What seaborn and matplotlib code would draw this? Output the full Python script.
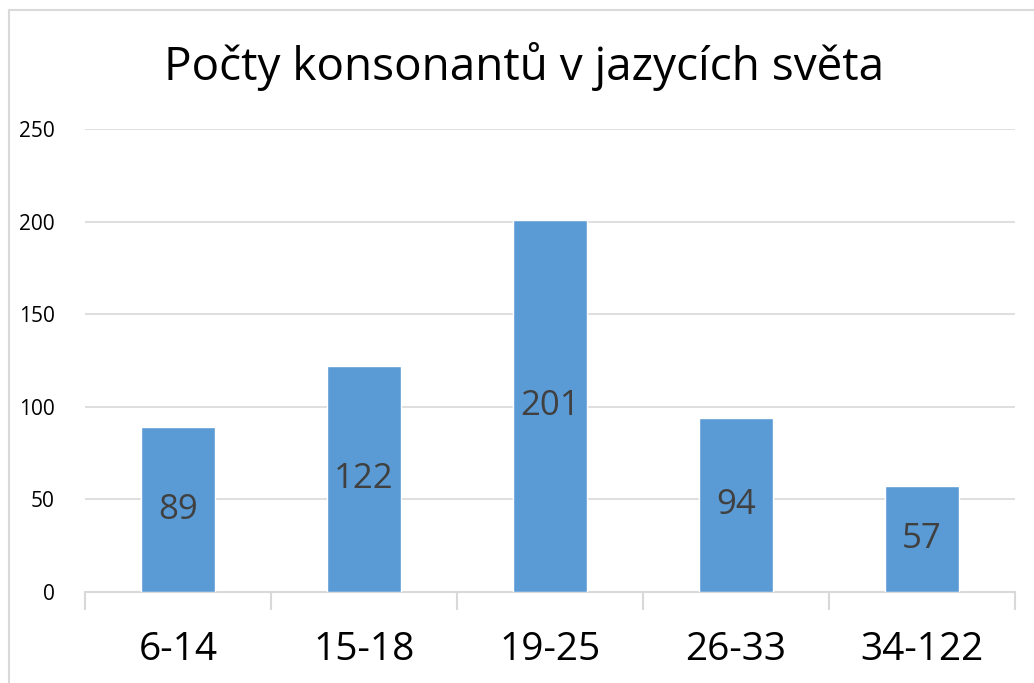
import seaborn as sns
import matplotlib.pyplot as plt
import pandas as pd
from matplotlib.lines import Line2D

categories = ['6-14', '15-18', '19-25', '26-33', '34-122']
counts = [89, 122, 201, 94, 57]
yticks = [0, 50, 100, 150, 200, 250]

sns.set_style('white')
plt.rcParams['font.family'] = ['Open Sans', 'DejaVu Sans']

df = pd.DataFrame({'kategorie': categories, 'pocet': counts})

fig = plt.figure(figsize=(10.34, 6.83), dpi=100)
ax = fig.add_axes([0.0822, 0.1332, 0.8994, 0.678])

sns.barplot(data=df, x='kategorie', y='pocet', color='#5B9BD5', width=0.4,
            saturation=1, ax=ax, zorder=3)

ax.set_ylim(0, 250)
ax.set_xlim(-0.5, len(categories) - 0.5)
ax.set_yticks(yticks)
ax.yaxis.grid(True, color='#D9D9D9', linewidth=1.2, zorder=0)
ax.set_axisbelow(True)
ax.set_xlabel('')
ax.set_ylabel('')

for s in ['top', 'right', 'left']:
    ax.spines[s].set_visible(False)
ax.spines['bottom'].set_color('#D9D9D9')
ax.spines['bottom'].set_linewidth(1.5)

ax.tick_params(axis='y', length=0, labelsize=15, pad=22, labelcolor='black')
ax.tick_params(axis='x', which='major', length=0, labelsize=28, pad=28,
               labelcolor='black')
ax.set_xticks([i - 0.5 for i in range(len(categories) + 1)], minor=True)
ax.tick_params(axis='x', which='minor', bottom=True, length=13, width=1.5,
               color='#D9D9D9')

for i, v in enumerate(counts):
    ax.text(i, v / 2, str(v), ha='center', va='center', fontsize=25,
            color='#404040', zorder=4)

fig.suptitle('Počty konsonantů v jazycích světa', fontsize=33, x=0.507,
             y=0.938, color='black')

# chart border (cut off at right and bottom)
fig.add_artist(Line2D([0.0087, 0.0087], [0, 0.986], color='#D9D9D9', lw=1.5,
                      transform=fig.transFigure))
fig.add_artist(Line2D([0.0087, 1], [0.986, 0.986], color='#D9D9D9', lw=1.5,
                      transform=fig.transFigure))

plt.savefig('out.png', dpi=100)
plt.close()
